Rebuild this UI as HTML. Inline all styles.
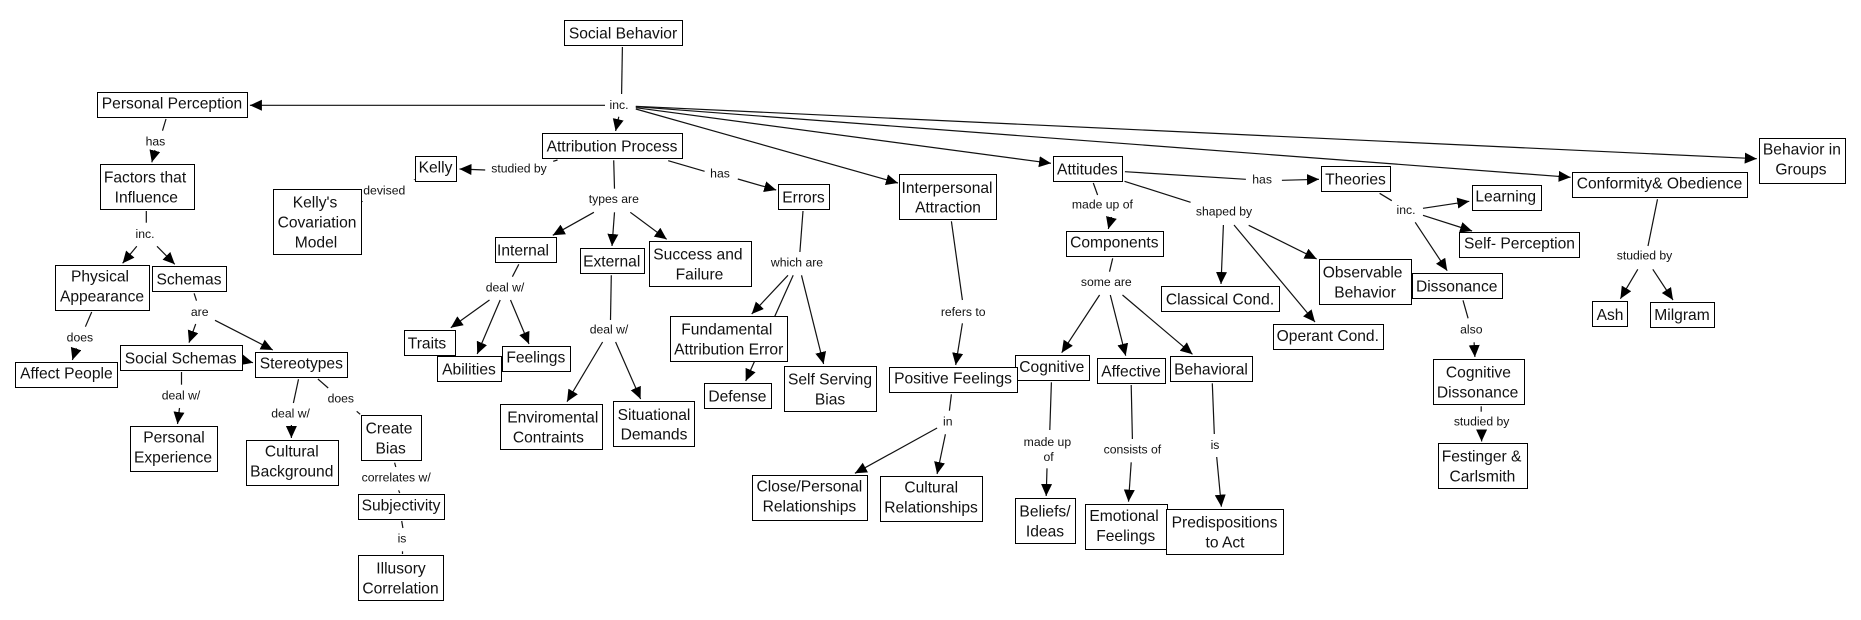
<!DOCTYPE html>
<html><head><meta charset="utf-8"><title>Social Behavior</title>
<style>
html,body{margin:0;padding:0;background:#fff}
svg{display:block}
rect{fill:#fff;stroke:#000;stroke-width:1}
line{stroke:#111;stroke-width:1.2}
line.a{marker-end:url(#h)}
text{font-family:"Liberation Sans",Arial,sans-serif;text-anchor:middle;fill:#111}
.n text{font-size:15.6px;transform:translateY(-.6px)}
.l text{font-size:12.2px}
</style></head><body>
<svg width="1861" height="620" viewBox="0 0 1861 620" xmlns="http://www.w3.org/2000/svg">
<defs><marker id="h" markerUnits="userSpaceOnUse" markerWidth="13" markerHeight="12" refX="12" refY="5.5" orient="auto"><path d="M0,0L12,5.5L0,11z" fill="#000"/></marker></defs>
<rect x="0" y="0" width="1861" height="620" style="fill:#fff;stroke:none"/>
<g>
<line x1="622.4" y1="47" x2="621.6" y2="94"/>
<line class="a" x1="605" y1="105.3" x2="249.9" y2="105.3"/>
<line class="a" x1="618.8" y1="116.7" x2="615.6" y2="131"/>
<line class="a" x1="635.8" y1="109" x2="898" y2="183"/>
<line class="a" x1="635.8" y1="107.7" x2="1051" y2="163.3"/>
<line class="a" x1="635.8" y1="106.7" x2="1570.6" y2="177.3"/>
<line class="a" x1="635.8" y1="106.3" x2="1756.8" y2="158.7"/>
<line x1="166" y1="119" x2="162.5" y2="130.7"/>
<line class="a" x1="155" y1="150" x2="151.8" y2="162.3"/>
<line x1="146.3" y1="211" x2="146.3" y2="222.7"/>
<line class="a" x1="136.8" y1="246.3" x2="122.6" y2="263.3"/>
<line class="a" x1="157" y1="246.3" x2="174.8" y2="264.3"/>
<line x1="91.7" y1="312" x2="85.4" y2="326.7"/>
<line class="a" x1="76.3" y1="348" x2="72.4" y2="360"/>
<line x1="194.1" y1="293.3" x2="196.5" y2="300.7"/>
<line class="a" x1="195.7" y1="324" x2="189" y2="342.7"/>
<line class="a" x1="215" y1="320.3" x2="272.8" y2="350"/>
<line class="a" x1="242.4" y1="360" x2="253" y2="362.7"/>
<line x1="181.5" y1="372" x2="181.5" y2="384.7"/>
<line class="a" x1="179.5" y1="408" x2="177.5" y2="424"/>
<line x1="298.5" y1="379.3" x2="293.4" y2="403"/>
<line class="a" x1="291.4" y1="425" x2="291.4" y2="438"/>
<line x1="317.9" y1="379" x2="328.2" y2="388"/>
<line x1="356.7" y1="411.3" x2="360.2" y2="414.3"/>
<line x1="394.6" y1="462.7" x2="395.8" y2="467"/>
<line x1="398.6" y1="490.3" x2="399.7" y2="493"/>
<line x1="401.7" y1="521" x2="402.9" y2="528"/>
<line x1="402.5" y1="551.3" x2="402.5" y2="554"/>
<line x1="557.5" y1="160" x2="553.2" y2="161.3"/>
<line class="a" x1="485.2" y1="170" x2="459.5" y2="169"/>
<line x1="414" y1="179.3" x2="414.6" y2="179.8"/>
<line x1="362.2" y1="201.3" x2="362.6" y2="201.8"/>
<line x1="613.7" y1="160.3" x2="614.5" y2="188.7"/>
<line class="a" x1="593.9" y1="212.3" x2="552.8" y2="235.3"/>
<line class="a" x1="614.5" y1="212.3" x2="612" y2="246"/>
<line class="a" x1="630.3" y1="212.3" x2="666.7" y2="239.3"/>
<line x1="518.8" y1="264.3" x2="512.4" y2="276.7"/>
<line class="a" x1="489.5" y1="300" x2="450.8" y2="327.7"/>
<line class="a" x1="500.2" y1="300" x2="477.2" y2="354"/>
<line class="a" x1="510.5" y1="300" x2="529" y2="344"/>
<line x1="611.3" y1="275.3" x2="610.5" y2="320"/>
<line class="a" x1="602.6" y1="342" x2="567" y2="401.7"/>
<line class="a" x1="615.6" y1="342" x2="640.6" y2="399"/>
<line x1="668.2" y1="160.7" x2="704.6" y2="171.3"/>
<line class="a" x1="737.8" y1="179" x2="776.2" y2="190"/>
<line x1="803" y1="211" x2="799.9" y2="252"/>
<line class="a" x1="788" y1="275.3" x2="751.7" y2="314"/>
<line class="a" x1="793.2" y1="275.3" x2="745.7" y2="381"/>
<line class="a" x1="801.5" y1="275.3" x2="823.6" y2="364"/>
<line x1="951.4" y1="221.3" x2="962.4" y2="300"/>
<line class="a" x1="962.4" y1="323.3" x2="955.7" y2="365"/>
<line x1="951.4" y1="394.3" x2="949.4" y2="410.7"/>
<line class="a" x1="937.1" y1="428" x2="854.9" y2="473.3"/>
<line class="a" x1="945.4" y1="434.3" x2="937.1" y2="474"/>
<line x1="1093.3" y1="183" x2="1097.6" y2="195"/>
<line class="a" x1="1111.5" y1="217" x2="1108.3" y2="229"/>
<line x1="1112.7" y1="258.3" x2="1109.5" y2="271.7"/>
<line class="a" x1="1099.6" y1="295" x2="1061.7" y2="352.7"/>
<line class="a" x1="1110.3" y1="295" x2="1125.7" y2="355.7"/>
<line class="a" x1="1122.5" y1="295" x2="1192.5" y2="354.3"/>
<line x1="1124.5" y1="181.3" x2="1190.6" y2="202.3"/>
<line x1="1124.9" y1="171.7" x2="1245.9" y2="179.3"/>
<line class="a" x1="1281.9" y1="180.3" x2="1319" y2="179.3"/>
<line class="a" x1="1223.4" y1="225" x2="1221" y2="284"/>
<line class="a" x1="1248.7" y1="225.3" x2="1316.7" y2="259"/>
<line class="a" x1="1234" y1="225" x2="1315" y2="322"/>
<line x1="1379.6" y1="193.3" x2="1391.8" y2="200.7"/>
<line class="a" x1="1423" y1="208.3" x2="1469.3" y2="201.3"/>
<line class="a" x1="1423" y1="215.3" x2="1472.1" y2="231"/>
<line class="a" x1="1415.2" y1="222.3" x2="1447.2" y2="270.7"/>
<line x1="1463" y1="300.3" x2="1468.1" y2="318.3"/>
<line class="a" x1="1474.1" y1="342.3" x2="1474.9" y2="357"/>
<line x1="1481.2" y1="406.3" x2="1481.2" y2="411.7"/>
<line class="a" x1="1481.6" y1="430" x2="1481.6" y2="441.5"/>
<line x1="1657.5" y1="199.3" x2="1648" y2="246"/>
<line class="a" x1="1637.8" y1="269.3" x2="1620.4" y2="298.7"/>
<line class="a" x1="1652.8" y1="269.3" x2="1673" y2="300"/>
<line x1="1051.4" y1="382.3" x2="1049.8" y2="430"/>
<line class="a" x1="1047" y1="468.3" x2="1046.2" y2="496"/>
<line x1="1131.2" y1="385" x2="1132.4" y2="439"/>
<line class="a" x1="1131.2" y1="462.3" x2="1128.5" y2="501.7"/>
<line x1="1212.3" y1="383.3" x2="1214.3" y2="434"/>
<line class="a" x1="1216.7" y1="457" x2="1221.4" y2="506.7"/>
</g>
<g class="l">
<text x="619" y="109">inc.</text>
<text x="155.4" y="145.7">has</text>
<text x="519" y="172.7">studied by</text>
<text x="384.3" y="194.7">devised</text>
<text x="613.8" y="203">types are</text>
<text x="145" y="238">inc.</text>
<text x="505" y="291.7">deal w/</text>
<text x="199.7" y="316">are</text>
<text x="79.9" y="341.7">does</text>
<text x="181" y="399.7">deal w/</text>
<text x="290.6" y="417.7">deal w/</text>
<text x="340.8" y="402.7">does</text>
<text x="396.2" y="481.7">correlates w/</text>
<text x="402" y="542.7">is</text>
<text x="609" y="333.7">deal w/</text>
<text x="720" y="177.7">has</text>
<text x="797" y="266.7">which are</text>
<text x="963.2" y="316">refers to</text>
<text x="1102.4" y="208.7">made up of</text>
<text x="1106.3" y="286">some are</text>
<text x="1224" y="215.7">shaped by</text>
<text x="1262.1" y="183.7">has</text>
<text x="1406" y="214">inc.</text>
<text x="1644.5" y="259.7">studied by</text>
<text x="1471.3" y="333.7">also</text>
<text x="1481.6" y="425.7">studied by</text>
<text x="947.8" y="425.7">in</text>
<text x="1047.4" y="446">made up</text>
<text x="1048.6" y="461">of</text>
<text x="1132.4" y="453.7">consists of</text>
<text x="1215" y="449">is</text>
</g>
<g class="n">
<rect x="564.5" y="20.5" width="118" height="25"/><text x="623" y="39.3">Social Behavior</text>
<rect x="97.5" y="92.5" width="150" height="25"/><text x="172" y="109.3">Personal Perception</text>
<rect x="542.5" y="133.5" width="140" height="25"/><text x="612" y="152">Attribution Process</text>
<rect x="415.5" y="156.5" width="41" height="25"/><text x="435.5" y="173">Kelly</text>
<rect x="100.5" y="164.5" width="94" height="45"/><text x="145" y="183.3">Factors that</text><text x="146.3" y="203.3">Influence</text>
<rect x="273.5" y="189.5" width="88" height="65"/><text x="315" y="208.3">Kelly's</text><text x="317" y="228.3">Covariation</text><text x="316" y="248.3">Model</text>
<rect x="495.5" y="237.5" width="61" height="25"/><text x="523" y="256.3">Internal</text>
<rect x="580.5" y="248.5" width="64" height="25"/><text x="611.7" y="267.3">External</text>
<rect x="55.5" y="265.5" width="94" height="45"/><text x="100" y="282.3">Physical</text><text x="102" y="302.3">Appearance</text>
<rect x="152.5" y="266.5" width="74" height="25"/><text x="189" y="285">Schemas</text>
<rect x="15.5" y="362.5" width="102" height="25"/><text x="66.4" y="379.3">Affect People</text>
<rect x="120.5" y="345.5" width="122" height="25"/><text x="180.7" y="364.3">Social Schemas</text>
<rect x="255.5" y="352.5" width="92" height="25"/><text x="301.3" y="369.3">Stereotypes</text>
<rect x="130.5" y="426.5" width="87" height="45"/><text x="174" y="443.3">Personal</text><text x="173" y="463.3">Experience</text>
<rect x="246.5" y="440.5" width="92" height="45"/><text x="291.8" y="457.3">Cultural</text><text x="291.8" y="477.3">Background</text>
<rect x="361.5" y="415.5" width="60" height="45"/><text x="389" y="434.3">Create</text><text x="390.7" y="454.3">Bias</text>
<rect x="358.5" y="494.5" width="86" height="25"/><text x="401" y="511">Subjectivity</text>
<rect x="358.5" y="555.5" width="85" height="45"/><text x="401" y="574.3">Illusory</text><text x="400.5" y="594.3">Correlation</text>
<rect x="404.5" y="330.5" width="51" height="25"/><text x="427" y="349.3">Traits</text>
<rect x="502.5" y="346.5" width="68" height="25"/><text x="535.8" y="363.3">Feelings</text>
<rect x="437.5" y="356.5" width="64" height="25"/><text x="469" y="375.3">Abilities</text>
<rect x="500.5" y="404.5" width="102" height="45"/><text x="552.8" y="423.3">Enviromental</text><text x="548.4" y="443.3">Contraints</text>
<rect x="613.5" y="401.5" width="81" height="45"/><text x="654" y="420.7">Situational</text><text x="654" y="440.3">Demands</text>
<rect x="778.5" y="184.5" width="51" height="25"/><text x="803.5" y="203.3">Errors</text>
<rect x="649.5" y="241.5" width="102" height="45"/><text x="697.9" y="260.3">Success and</text><text x="699.5" y="280.3">Failure</text>
<rect x="899.5" y="174.5" width="97" height="45"/><text x="947" y="193.7">Interpersonal</text><text x="948" y="213.3">Attraction</text>
<rect x="1053.5" y="156.5" width="69" height="25"/><text x="1087.4" y="175.3">Attitudes</text>
<rect x="1066.5" y="231.5" width="97" height="25"/><text x="1114.3" y="248.3">Components</text>
<rect x="1161.5" y="286.5" width="118" height="25"/><text x="1220" y="305">Classical Cond.</text>
<rect x="670.5" y="316.5" width="117" height="45"/><text x="726.8" y="335.3">Fundamental</text><text x="728.7" y="355.3">Attribution Error</text>
<rect x="704.5" y="383.5" width="67" height="25"/><text x="737.4" y="402.3">Defense</text>
<rect x="784.5" y="366.5" width="92" height="45"/><text x="830" y="385.3">Self Serving</text><text x="830" y="405.3">Bias</text>
<rect x="1015.5" y="355.5" width="74" height="25"/><text x="1051.8" y="372.7">Cognitive</text>
<rect x="889.5" y="367.5" width="128" height="25"/><text x="953" y="384.3">Positive Feelings</text>
<rect x="1097.5" y="358.5" width="68" height="25"/><text x="1131" y="377.3">Affective</text>
<rect x="1170.5" y="356.5" width="82" height="25"/><text x="1211" y="375.3">Behavioral</text>
<rect x="752.5" y="475.5" width="115" height="45"/><text x="809.4" y="492.3">Close/Personal</text><text x="809.4" y="512.3">Relationships</text>
<rect x="880.5" y="476.5" width="102" height="45"/><text x="931.2" y="493.3">Cultural</text><text x="931" y="513.3">Relationships</text>
<rect x="1015.5" y="498.5" width="60" height="45"/><text x="1045" y="517.3">Beliefs/</text><text x="1045" y="537.3">Ideas</text>
<rect x="1085.5" y="504.5" width="82" height="45"/><text x="1124" y="521.7">Emotional</text><text x="1125.7" y="541.7">Feelings</text>
<rect x="1166.5" y="509.5" width="117" height="45"/><text x="1224.5" y="528.3">Predispositions</text><text x="1225" y="548.3">to Act</text>
<rect x="1321.5" y="166.5" width="69" height="25"/><text x="1355.5" y="185.3">Theories</text>
<rect x="1472.5" y="185.5" width="69" height="25"/><text x="1505.7" y="202.3">Learning</text>
<rect x="1459.5" y="232.5" width="120" height="25"/><text x="1519.5" y="249.3">Self- Perception</text>
<rect x="1319.5" y="259.5" width="92" height="45"/><text x="1362.6" y="278.3">Observable</text><text x="1365" y="298.3">Behavior</text>
<rect x="1412.5" y="273.5" width="90" height="25"/><text x="1456.7" y="292.3">Dissonance</text>
<rect x="1572.5" y="172.5" width="175" height="25"/><text x="1659.5" y="189.3">Conformity&amp; Obedience</text>
<rect x="1759.5" y="138.5" width="86" height="45"/><text x="1801.9" y="155.3">Behavior in</text><text x="1801" y="175.3">Groups</text>
<rect x="1592.5" y="301.5" width="35" height="25"/><text x="1610" y="320.7">Ash</text>
<rect x="1650.5" y="302.5" width="64" height="25"/><text x="1682" y="320.7">Milgram</text>
<rect x="1273.5" y="324.5" width="110" height="25"/><text x="1327.8" y="341.7">Operant Cond.</text>
<rect x="1433.5" y="359.5" width="91" height="45"/><text x="1478.4" y="378.3">Cognitive</text><text x="1477.6" y="398.3">Dissonance</text>
<rect x="1438.5" y="443.5" width="89" height="45"/><text x="1481.6" y="462.3">Festinger &amp;</text><text x="1482.4" y="482.3">Carlsmith</text>
</g>
</svg>
</body></html>
